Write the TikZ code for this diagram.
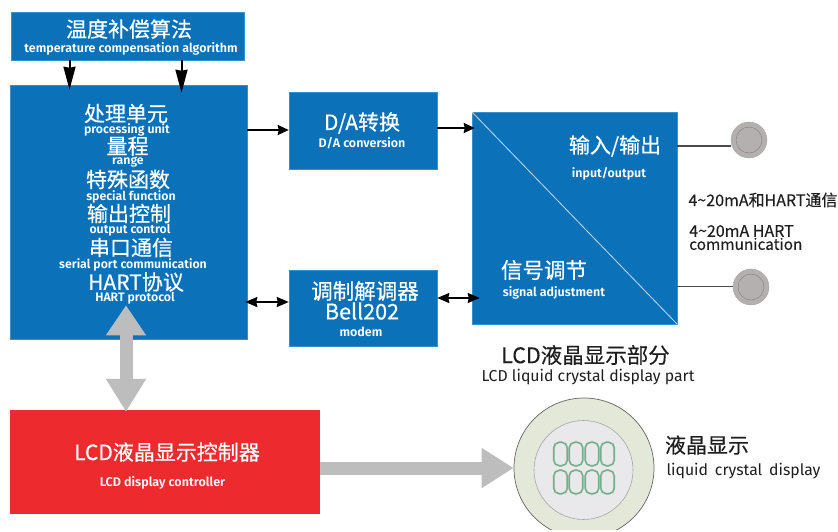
\documentclass[tikz,border=0pt]{standalone}
\usepackage{fontspec}
\setmainfont{Fira Sans}
\newfontfamily\zhf{Noto Sans CJK SC}[FakeBold=0.5]
\newfontfamily\zhk{Noto Sans CJK SC}[FakeBold=0.25]
\newfontfamily\enf{Fira Sans}[BoldFont={Fira Sans SemiBold}]
\usetikzlibrary{arrows.meta}
\definecolor{bluebox}{HTML}{0B72B9}
\definecolor{redbox}{HTML}{ED2B2E}
\definecolor{grayarrow}{HTML}{BDBDBD}
\definecolor{knob}{HTML}{B5B0B0}
\definecolor{lcdouter}{HTML}{E4E8D8}
\definecolor{lcdinner}{HTML}{E9E9EB}
\definecolor{digit}{HTML}{74AE8A}
\definecolor{inktext}{HTML}{1E1E1E}
\newcommand{\zhs}[1]{\fontsize{#1}{#1}\selectfont\zhf}
\newcommand{\zhb}[1]{\fontsize{#1}{#1}\selectfont\zhk}
\newcommand{\ens}[1]{\fontsize{#1}{#1}\selectfont\enf\bfseries}
\newcommand{\enr}[1]{\fontsize{#1}{#1}\selectfont\enf}
\tikzset{
  bx/.style={draw=bluebox!80!white,line width=.5pt,fill=#1,inner sep=0pt},
  wt/.style={text=white,inner sep=0pt,anchor=center},
  bt/.style={text=inktext,inner sep=0pt,anchor=center},
  blk/.style={draw=black,line width=2pt,-{Stealth[length=11pt,width=10pt,inset=1pt]}},
  blkv/.style={draw=black,line width=2pt,-{Stealth[length=23pt,width=12pt,inset=1pt]}},
  blkb/.style={draw=black,line width=2pt,{Stealth[length=12pt,width=10pt,inset=1pt]}-{Stealth[length=12pt,width=10pt,inset=1pt]}},
  gar/.style={draw=grayarrow,line width=13pt},
  lead/.style={draw=black!70,line width=1.1pt},
  knobc/.style={circle,fill=knob,draw=knob!95!black,minimum size=36pt,inner sep=0pt},
  ring/.style={circle,draw=knob!70!black,line width=.4pt,minimum size=26pt,inner sep=0pt},
  dig/.style={draw=digit,line width=1.6pt,rounded corners=5.5pt,minimum width=13.5pt,minimum height=23.5pt,inner sep=0pt}
}
\begin{document}
\begin{tikzpicture}[x=1pt,y=-1pt]
\useasboundingbox (0,0) rectangle (838,531);
\begin{scope}
\clip (0,0) rectangle (838,529);
% boxes
\node[bx=bluebox,minimum width=233pt,minimum height=48pt] (top) at (127.5,36) {};
\node[bx=bluebox,minimum width=237pt,minimum height=254pt] (main) at (128.5,212) {};
\node[bx=bluebox,minimum width=148pt,minimum height=77pt] (da) at (363,130.5) {};
\node[bx=bluebox,minimum width=148pt,minimum height=76pt] (modem) at (363,308) {};
\node[bx=bluebox,minimum width=205pt,minimum height=212pt] (io) at (574.5,218) {};
\node[fill=redbox,inner sep=0pt,minimum width=310pt,minimum height=104pt] (ctrl) at (165,462) {};
\draw[white!75!bluebox,line width=.8pt] (io.north west) -- (io.south east);
% knobs
\node[knobc] (k1) at (749,140) {};
\node[ring] (r1) at (k1) {};
\node[knobc] (k2) at (751,287) {};
\node[ring] (r2) at (k2) {};
\draw[lead] (io.east |- 0,146) -- (k1.west |- 0,146);
\draw[lead] (io.east |- 0,286.5) -- (k2.west |- 0,286.5);
% lcd
\node[circle,draw=black!60,line width=.7pt,fill=lcdouter,minimum size=140pt,inner sep=0pt] (lcd) at (584,468) {};
\node[circle,draw=black!35,line width=.6pt,fill=lcdinner,minimum size=99pt,inner sep=0pt] (lcdin) at (583.5,470) {};
\foreach \n/\x/\y in {a/560.5/454,b/576/454,c/592/454,d/607.5/454,e/560.5/482,f/576/482,g/592/482,h/607.5/482}
  \node[dig] (dig\n) at (\x,\y) {};
% connectors
\draw[blkv] ([xshift=-58pt]top.south) -- ([xshift=-59pt,yshift=-5pt]main.north);
\draw[blkv] ([xshift=54pt]top.south) -- ([xshift=53pt,yshift=-8pt]main.north);
\draw[blk] ([yshift=82pt]main.east) -- ([yshift=82pt]main.east -| da.west);
\draw[blk] (da.east |- 0,128) -- ([xshift=3pt]io.west |- 0,128);
\draw[blkb] ([xshift=-2pt]main.east |- 0,302) -- (modem.west |- 0,302);
\draw[blkb] (modem.east |- 0,298) -- ([xshift=8pt]io.west |- 0,298);
% grey arrows
\draw[gar,{Triangle[length=30pt,width=38pt]}-{Triangle[length=33pt,width=38pt]}] ([xshift=-2.5pt,yshift=34pt]main.south) -- ([xshift=-39pt,yshift=-2pt]ctrl.north);
\draw[gar,-{Triangle[length=32pt,width=38pt]}] (ctrl.east |- lcd.west) -- (lcd.west);
% texts
\node[wt] (t1) at (129,29) {\zhs{21}温度补偿算法};
\node[wt] (t1e) at (131,48.5) {\ens{12.5}temperature compensation algorithm};
\node[wt] (m1) at (126,113.5) {\zhs{21}处理单元};
\node[wt] (m1e) at (127,129.5) {\ens{12.3}processing unit};
\node[wt] (m2) at (127.5,146) {\zhs{21}量程};
\node[wt] (m2e) at (128,162.5) {\ens{12.3}range};
\node[wt] (m3) at (128,179.5) {\zhs{21}特殊函数};
\node[wt] (m3e) at (131,196.5) {\ens{12.3}special function};
\node[wt] (m4) at (129,213.5) {\zhs{21}输出控制};
\node[wt] (m4e) at (130,230.5) {\ens{12.3}output control};
\node[wt] (m5) at (131,247.5) {\zhs{21}串口通信};
\node[wt] (m5e) at (133,264.5) {\ens{12.3}serial port communication};
\node[wt] (m6) at (136,282) {\zhs{21}HART协议};
\node[wt] (m6e) at (135,298) {\ens{12.3}HART protocol};
\node[wt] (d1) at (362,123) {\zhs{21}D/A转换};
\node[wt] (d1e) at (362,143.5) {\ens{12.5}D/A conversion};
\node[wt] (o1) at (615,146) {\zhs{21}输入/输出};
\node[wt] (o1e) at (609,173.5) {\ens{12.4}input/output};
\node[wt] (o2) at (544,270) {\zhs{21.5}信号调节};
\node[wt] (o2e) at (554,292.5) {\ens{12.5}signal adjustment};
\node[wt] (x1) at (365,291) {\zhs{21.5}调制解调器};
\node[wt] (x2) at (362,311) {\zhs{21.5}Bell202};
\node[wt] (x3) at (361,331.5) {\ens{12.5}modem};
\node[wt] (c1) at (167,452) {\zhs{21}LCD液晶显示控制器};
\node[wt] (c1e) at (162.5,482.5) {\ens{12.6}LCD display controller};
\node[bt] (l1) at (585.5,355) {\zhb{21.5}LCD液晶显示部分};
\node[bt] (l1e) at (588,377) {\enr{15.8}LCD liquid crystal display part};
\node[bt] (l2) at (707,445) {\zhb{21}液晶显示};
\node[bt] (l2e) at (743.5,471) {\enr{15.8}liquid\, crystal\, display};
\node[bt] (h1) at (763,200) {\zhb{16}4\textasciitilde20mA和HART通信};
\node[bt,anchor=west] (h2) at (689,231) {\zhb{16}4\textasciitilde20mA HART};
\node[bt,anchor=west] (h3) at (689,244) {\zhb{15.4}communication};
\end{scope}
\end{tikzpicture}
\end{document}
